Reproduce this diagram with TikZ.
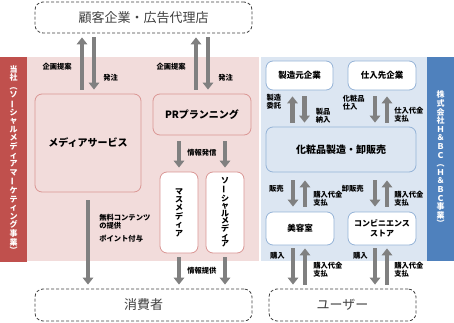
\documentclass[tikz,border=0pt]{standalone}
\usepackage{fontspec}
\setmainfont{Noto Sans CJK JP}
\usepackage{graphicx}
\usetikzlibrary{arrows.meta, positioning}

\definecolor{pinkbg}{HTML}{F2DCDB}
\definecolor{pinkline}{HTML}{DA9694}
\definecolor{redstrip}{HTML}{C0504D}
\definecolor{bluebg}{HTML}{DCE6F2}
\definecolor{blueline}{HTML}{95B3D7}
\definecolor{bluestrip}{HTML}{4F81BD}
\definecolor{flowgray}{HTML}{808080}

% 縦書き用の記号
\newcommand{\tbar}{\rotatebox[origin=c]{90}{ー}}
\newcommand{\tlp}{︵}
\newcommand{\trp}{︶}

\begin{document}
\begin{tikzpicture}[x=1pt, y=-1pt,
    dashbox/.style={draw=black!75, dash pattern=on 3pt off 2pt, rounded corners=8pt, line width=0.8pt, text=black!75, font=\fontsize{13}{15}\selectfont},
    box/.style={draw, rounded corners=7pt, line width=0.8pt, align=center, inner sep=0pt, font=\fontsize{8.5}{10}\selectfont\bfseries},
    pinkbox/.style={box, draw=pinkline, fill=pinkbg},
    whitebox/.style={box, draw=pinkline, fill=white},
    bluebox/.style={box, draw=blueline, fill=white},
    strip/.style={align=center, inner sep=0pt, text=white, font=\fontsize{8}{8.6}\selectfont\bfseries},
    flow/.style={draw=flowgray, line width=4.5pt, -{Triangle[length=7pt, width=10.5pt]}},
    lbl/.style={inner sep=0pt, align=left, font=\fontsize{7.3}{8.2}\selectfont\bfseries}]
  \useasboundingbox (0,0) rectangle (454,323);

  % 背景
  \fill[pinkbg] (27,57) rectangle (259,261);
  \fill[bluebg] (261,57) rectangle (427,261);
  \node[strip, fill=redstrip, minimum width=27pt, minimum height=205pt] (ours) at (13.5,159.5)
    {当\\社\\\tlp\\ソ\\\tbar\\シ\\ャ\\ル\\メ\\デ\\ィ\\ア\\マ\\\tbar\\ケ\\テ\\ィ\\ン\\グ\\事\\業\\\trp};
  \node[strip, fill=bluestrip, minimum width=27pt, minimum height=204pt] (hbc) at (440.5,159)
    {株\\式\\会\\社\\Ｈ\\＆\\Ｂ\\Ｃ\\\tlp\\Ｈ\\＆\\Ｂ\\Ｃ\\事\\業\\\trp};

  % 外側
  \node[dashbox, minimum width=217pt, minimum height=31pt] (cli) at (143.5,17.5) {顧客企業・広告代理店};
  \node[dashbox, minimum width=217pt, minimum height=32pt] (con) at (143.5,305) {消費者};
  \node[dashbox, minimum width=147pt, minimum height=32pt] (usr) at (342.5,305) {ユーザー};

  % 当社
  \node[pinkbox, minimum width=106pt, minimum height=98pt, font=\fontsize{10}{12}\selectfont\bfseries] (ms) at (88,143) {メディアサービス};
  \node[pinkbox, minimum width=98pt, minimum height=41pt, font=\fontsize{10}{12}\selectfont\bfseries] (pr) at (202,114.5) {PRプランニング};
  \node[whitebox, minimum width=38pt, minimum height=81pt, font=\fontsize{8}{8.4}\selectfont\bfseries] (mm) at (179,212.5)
    {マ\\ス\\メ\\デ\\ィ\\ア};
  \node[whitebox, minimum width=38pt, minimum height=81pt, font=\fontsize{8}{7.6}\selectfont\bfseries] (sm) at (225,212.5)
    {ソ\\\tbar\\シ\\ャ\\ル\\メ\\デ\\ィ\\ア};

  % H&BC事業
  \node[bluebox, minimum width=67pt, minimum height=29pt] (mk) at (299.5,75.5) {製造元企業};
  \node[bluebox, minimum width=68pt, minimum height=29pt] (sk) at (382,75.5) {仕入先企業};
  \node[box, draw=blueline, fill=bluebg, minimum width=150pt, minimum height=45pt, font=\fontsize{10}{12}\selectfont\bfseries] (cs) at (341,149.5) {化粧品製造・卸販売};
  \node[bluebox, minimum width=68pt, minimum height=33pt] (bs) at (300,228.5) {美容室};
  \node[bluebox, minimum width=68pt, minimum height=33pt, font=\fontsize{8}{10}\selectfont\bfseries] (cv) at (382,228.5) {コンビニエンス\\ストア};

  % 当社の矢印
  \draw[flow] ([xshift=-6pt,yshift=4pt]ms.north) -- node[lbl, left=8pt, pos=0.43] (l1) {企画提案} ([xshift=-6pt,yshift=-4pt]ms.north |- cli.south);
  \draw[flow] ([xshift=6pt,yshift=-4pt]ms.north |- cli.south) -- node[lbl, right=7pt, pos=0.77] (l2) {発注} ([xshift=6pt,yshift=4pt]ms.north);
  \draw[flow] ([xshift=-6pt,yshift=4pt]pr.north) -- node[lbl, left=8pt, pos=0.43] (l3) {企画提案} ([xshift=-6pt,yshift=-4pt]pr.north |- cli.south);
  \draw[flow] ([xshift=6pt,yshift=-4pt]pr.north |- cli.south) -- node[lbl, right=8pt, pos=0.77] (l4) {発注} ([xshift=6pt,yshift=4pt]pr.north);
  \draw[flow] ([yshift=-6pt]mm.north |- pr.south) -- node[lbl, right=6pt, pos=0.45] (l5) {情報発信} ([yshift=4pt]mm.north);
  \draw[flow] ([yshift=-6pt]sm.north |- pr.south) -- ([yshift=4pt]sm.north);
  \draw[flow] ([yshift=-4pt]mm.south) -- node[lbl, right=6pt, pos=0.5] (l6) {情報提供} ([yshift=4pt]mm.south |- con.north);
  \draw[flow] ([yshift=-4pt]sm.south) -- ([yshift=4pt]sm.south |- con.north);
  \draw[flow] ([yshift=-8pt]ms.south) -- node[lbl, right=9pt, pos=0.25] (l7) {無料コンテンツ\\の提供}
    node[lbl, right=9pt, pos=0.45] (l8) {ポイント付与} ([yshift=4pt]ms.south |- con.north);

  % H&BC事業の矢印
  \draw[flow] ([xshift=-7pt,yshift=4pt]mk.south |- cs.north) -- node[lbl, left=9pt, pos=0.8] (l9) {製造\\委託} ([xshift=-7pt,yshift=-6pt]mk.south);
  \draw[flow] ([xshift=5pt,yshift=-6pt]mk.south) -- node[lbl, right=9pt, pos=0.74] (l10) {製品\\納入} ([xshift=5pt,yshift=4pt]mk.south |- cs.north);
  \draw[flow] ([xshift=-7pt,yshift=-6pt]sk.south) -- node[lbl, left=8pt, pos=0.24] (l11) {化粧品\\仕入} ([xshift=-7pt,yshift=4pt]sk.south |- cs.north);
  \draw[flow] ([xshift=5pt,yshift=4pt]sk.south |- cs.north) -- node[lbl, right=5pt, pos=0.31] (l12) {仕入代金\\支払} ([xshift=5pt,yshift=-6pt]sk.south);
  \draw[flow] ([xshift=-7pt,yshift=-8pt]bs.north |- cs.south) -- node[lbl, left=7pt, pos=0.3] (l13) {販売} ([xshift=-7pt,yshift=5pt]bs.north);
  \draw[flow] ([xshift=5pt,yshift=5pt]bs.north) -- node[lbl, right=6pt, pos=0.3] (l14) {購入代金\\支払} ([xshift=5pt,yshift=-8pt]bs.north |- cs.south);
  \draw[flow] ([xshift=-7pt,yshift=-8pt]cv.north |- cs.south) -- node[lbl, left=9pt, pos=0.3] (l15) {卸販売} ([xshift=-7pt,yshift=5pt]cv.north);
  \draw[flow] ([xshift=5pt,yshift=5pt]cv.north) -- node[lbl, right=5pt, pos=0.3] (l16) {購入代金\\支払} ([xshift=5pt,yshift=-8pt]cv.north |- cs.south);
  \draw[flow] ([xshift=-7pt,yshift=-3pt]bs.south) -- node[lbl, left=6pt, pos=0.2] (l17) {購入} ([xshift=-7pt,yshift=4pt]bs.south |- usr.north);
  \draw[flow] ([xshift=5pt,yshift=4pt]bs.south |- usr.north) -- node[lbl, right=6pt, pos=0.42] (l18) {購入代金\\支払} ([xshift=5pt,yshift=-3pt]bs.south);
  \draw[flow] ([xshift=-7pt,yshift=-3pt]cv.south) -- node[lbl, left=5pt, pos=0.2] (l19) {購入} ([xshift=-7pt,yshift=4pt]cv.south |- usr.north);
  \draw[flow] ([xshift=5pt,yshift=4pt]cv.south |- usr.north) -- node[lbl, right=5pt, pos=0.42] (l20) {購入代金\\支払} ([xshift=5pt,yshift=-3pt]cv.south);
\end{tikzpicture}
\end{document}
